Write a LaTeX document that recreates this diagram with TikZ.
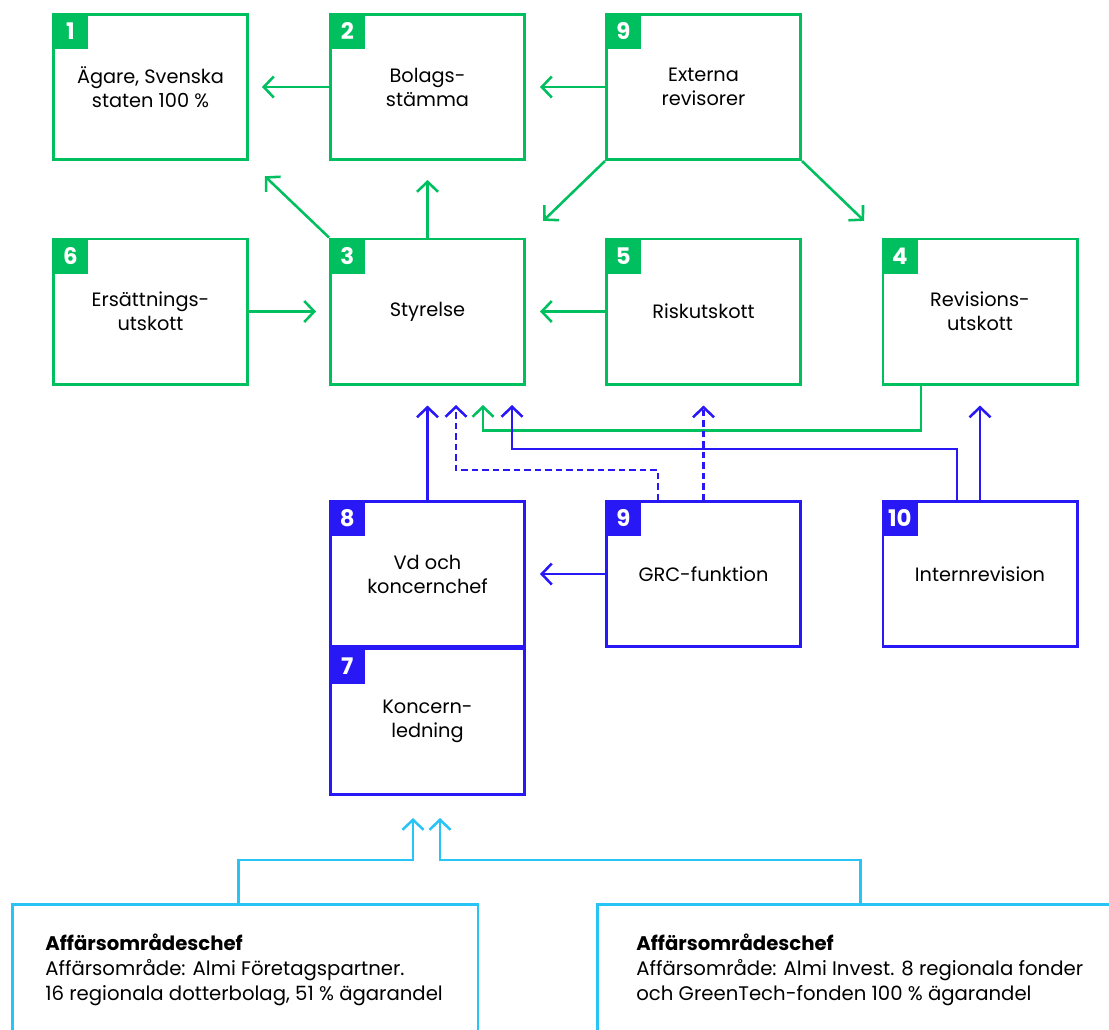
\documentclass[tikz,border=0pt]{standalone}
\usepackage{fontspec}
\setmainfont{Poppins}
\usetikzlibrary{arrows.meta}
\definecolor{almigreen}{RGB}{0,191,95}
\definecolor{almiblue}{RGB}{40,24,245}
\definecolor{almisky}{RGB}{41,196,246}
\tikzset{
  box/.style={draw, line width=1.45pt, minimum width=3.89cm, minimum height=2.91cm,
    inner sep=0pt, align=center, font=\fontsize{11}{13.6}\selectfont},
  badge/.style={anchor=north west, minimum size=0.72cm, inner sep=0pt, text=white,
    font=\bfseries\fontsize{13}{13}\selectfont},
  conn/.style={line width=1.45pt, -{Straight Barb[length=0.2cm,width=0.42cm]}},
  dotline/.style={dash pattern=on 0.13cm off 0.08cm},
  bizbox/.style={draw=almisky, line width=1.45pt, anchor=north west, minimum height=3cm, inner sep=0pt},
  biztext/.style={anchor=north west, align=left, inner sep=0pt, font=\fontsize{11.2}{14.2}\selectfont},
}

\begin{document}
\begin{tikzpicture}[x=0.02cm, y=-0.02cm]
\useasboundingbox (0,0) rectangle (1109,1029);
\clip (0,0) rectangle (1109,1029);

% green boxes
\node[box, draw=almigreen] (n1) at (150.5,87) {Ägare, Svenska\\staten 100 \%};
\node[box, draw=almigreen] (n2) at (427.5,87) {Bolags-\\stämma};
\node[box, draw=almigreen] (n9a) at (703.5,87) {Externa\\revisorer};
\node[box, draw=almigreen] (n6) at (150.5,311.5) {Ersättnings-\\utskott};
\node[box, draw=almigreen] (n3) at (427.5,311.5) {Styrelse};
\node[box, draw=almigreen] (n5) at (703.5,311.5) {Riskutskott};
\node[box, draw=almigreen] (n4) at (980,311.5) {Revisions-\\utskott};

% blue boxes
\node[box, draw=almiblue] (n8) at (427.5,574) {Vd och\\koncernchef};
\node[box, draw=almiblue] (n7) at (427.5,721.5) {Koncern-\\ledning};
\node[box, draw=almiblue] (n9b) at (703.5,574) {GRC-funktion};
\node[box, draw=almiblue] (n10) at (980,574) {Internrevision};

% badges
\node[badge, fill=almigreen] (b1) at (n1.north west) {1};
\node[badge, fill=almigreen] (b2) at (n2.north west) {2};
\node[badge, fill=almigreen] (b9a) at (n9a.north west) {9};
\node[badge, fill=almigreen] (b6) at (n6.north west) {6};
\node[badge, fill=almigreen] (b3) at (n3.north west) {3};
\node[badge, fill=almigreen] (b5) at (n5.north west) {5};
\node[badge, fill=almigreen] (b4) at (n4.north west) {4};
\node[badge, fill=almiblue] (b8) at (n8.north west) {8};
\node[badge, fill=almiblue] (b7) at (n7.north west) {7};
\node[badge, fill=almiblue] (b9b) at (n9b.north west) {9};
\node[badge, fill=almiblue] (b10) at (n10.north west) {10};

% business areas
\node[bizbox, minimum width=9.32cm] (a1) at (11,903) {};
\node[bizbox, minimum width=10.52cm] (a2) at (596,903) {};
\node[biztext] (a1t) at (45,934) {\textbf{Affärsområdeschef}\\Affärsområde: Almi Företagspartner.\\16 regionala dotterbolag, 51 \% ägarandel};
\node[biztext] (a2t) at (636,934) {\textbf{Affärsområdeschef}\\Affärsområde: Almi Invest. 8 regionala fonder\\och GreenTech-fonden 100 \% ägarandel};

% arrow ends
\coordinate (s2) at (456,405);
\coordinate (s3) at (483,405);
\coordinate (s4) at (512,405);
\coordinate (k1) at (413,818);
\coordinate (k2) at (440,818);

% green connectors
\draw[conn, almigreen, shorten >=0.26cm] (n2.west) -- (n1.east);
\draw[conn, almigreen, shorten >=0.28cm] (n9a.west) -- (n2.east);
\draw[conn, almigreen, shorten >=0.48cm] (n9a.south west) -- (n3.north east);
\draw[conn, almigreen, shorten >=0.48cm] (n9a.south east) -- (n4.north west);
\draw[conn, almigreen, shorten >=0.44cm] (n3.north west) -- (n1.south east);
\draw[conn, almigreen, shorten >=0.38cm] (n3.north) -- (n2.south);
\draw[conn, almigreen, shorten >=0.26cm] (n6.east) -- (n3.west);
\draw[conn, almigreen, shorten >=0.28cm] (n5.west) -- (n3.east);
\draw[conn, almigreen] ([xshift=-1.18cm]n4.south) -- ++(0,45) -| (s3);

% blue connectors
\draw[conn, almiblue, shorten >=0.4cm] (n8.north) -- (n3.south);
\draw[conn, almiblue, dotline] ([xshift=-0.91cm]n9b.north) -- ++(0,-30) -| (s2);
\draw[conn, almiblue, dotline, shorten >=0.4cm] (n9b.north) -- (n5.south);
\draw[conn, almiblue] ([xshift=-0.46cm]n10.north) -- ++(0,-51) -| (s4);
\draw[conn, almiblue, shorten >=0.4cm] (n10.north) -- (n4.south);
\draw[conn, almiblue, shorten >=0.28cm] (n9b.west) -- (n8.east);

% light blue connectors
\draw[conn, almisky] ([xshift=-0.14cm]a1.north) -- ++(0,-43) -| (k1);
\draw[conn, almisky] (a2.north) -- ++(0,-43) -| (k2);
\end{tikzpicture}
\end{document}
